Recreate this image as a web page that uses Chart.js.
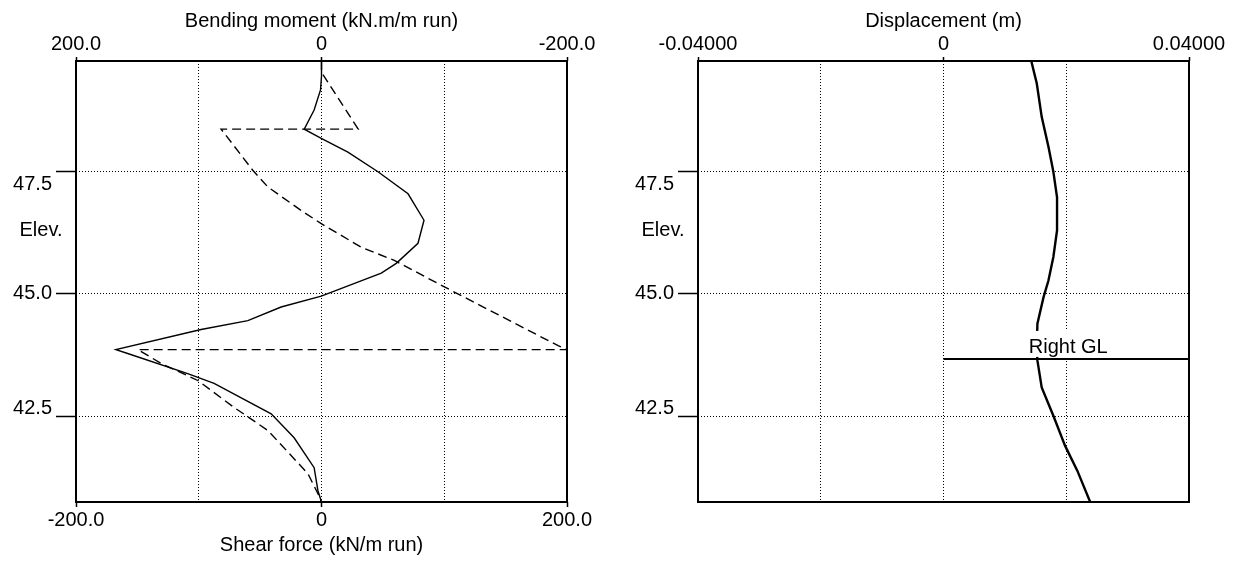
<!DOCTYPE html>
<html><head><meta charset="utf-8">
<script src="https://cdn.jsdelivr.net/npm/chart.js@4.4.0/dist/chart.umd.min.js"></script>
<style>
html,body{margin:0;padding:0;background:#fff;}
#wrap{position:relative;width:1243px;height:561px;overflow:hidden;}
canvas{position:absolute;top:0;}
</style></head><body>
<div id="wrap">
<canvas id="c1" width="622" height="561" style="left:0px"></canvas>
<canvas id="c2" width="621" height="561" style="left:622px"></canvas>
</div>
<script>
// ---------------- data ----------------
const elevMin = 40.75, elevMax = 49.75;
const elevTicks = [42.5, 45.0, 47.5];
const elevTickLabels = ['42.5', '45.0', '47.5'];

const forceTicks = [-200, -100, 0, 100, 200];
const forceTickLabels = ['-200.0', '', '0', '', '200.0'];

const dispTicks = [-0.04, -0.02, 0, 0.02, 0.04];
const dispTickLabels = ['-0.04000', '', '0', '', '0.04000'];

// Bending moment (kN.m/m run) vs elevation (solid line)
const momentElev = [49.75, 49.44, 49.16, 48.75, 48.36, 48.17, 47.89, 47.49, 47.04, 46.50, 46.03, 45.62, 45.42, 44.95, 44.73, 44.45, 44.27, 43.86, 43.78, 43.37, 43.17, 42.55, 42.06, 41.45, 40.98, 40.75];
const momentVal  = [0, 0, 0.8, 6.0, 14.1, 0.2, -21.5, -46.0, -70.5, -83.5, -78.6, -60.9, -48.7, 0.2, 32.9, 60.0, 98.1, 167.5, 157.9, 109.0, 87.5, 41.0, 22.3, 6.0, 2.9, 0];

// Shear force (kN/m run) vs elevation (dashed line)
const shearElev = [49.75, 49.52, 48.36, 48.36, 47.52, 47.18, 46.70, 46.43, 45.95, 45.68, 45.14, 43.94, 43.86, 43.86, 43.58, 43.23, 42.68, 42.21, 41.33, 40.92, 40.75];
const shearVal  = [0, 0, 29.9, -81.8, -56.0, -43.7, -16.6, -0.2, 32.4, 59.3, 100.1, 192.8, 200, -149.5, -130.8, -100.8, -71.2, -43.7, -11.1, -2.9, 0];

// Displacement (m) vs elevation
const dispElev = [49.75, 49.29, 48.61, 48.00, 47.49, 46.97, 46.29, 45.75, 45.27, 44.93, 44.39, 43.94, 43.64, 43.09, 42.51, 41.90, 41.39, 40.75];
const dispVal  = [0.0143, 0.0152, 0.0160, 0.0171, 0.0179, 0.0185, 0.0185, 0.0179, 0.0171, 0.0163, 0.0153, 0.0152, 0.0153, 0.0160, 0.0179, 0.0198, 0.0218, 0.0239];

// Right ground level
const rightGLElev = 43.67;
const rightGLRange = [0, 0.04];
const rightGLLabel = 'Right GL';

// ---------------- helpers ----------------
const FONT_FAMILY = "'Liberation Sans', Arial, sans-serif";
const FONT = {family: FONT_FAMILY, size: 20, lineHeight: 1.2};
const TRANSPARENT = 'rgba(0,0,0,0)';
const toPts = (xs, ys) => xs.map((x, i) => ({x: x, y: ys[i]}));

function elevScale() {
  return {
    type: 'linear', position: 'left', min: elevMin, max: elevMax,
    afterBuildTicks: s => { s.ticks = elevTicks.map(v => ({value: v})); },
    afterFit: s => { s.width = 76; },
    ticks: {display: false},
    grid: {color: '#000', lineWidth: 1, drawTicks: true, tickLength: 20, tickColor: '#000', tickWidth: 1.5, tickBorderDash: []},
    border: {display: false, dash: [1, 2]}
  };
}

function valueScale(opts) {
  const labelled = v => opts.labels[opts.ticks.indexOf(v)] !== '';
  const isEdge = v => v === opts.ticks[0] || v === opts.ticks[opts.ticks.length - 1];
  return {
    type: 'linear', position: opts.position, min: opts.ticks[0], max: opts.ticks[opts.ticks.length - 1],
    reverse: !!opts.reverse,
    afterBuildTicks: s => { s.ticks = opts.ticks.map(v => ({value: v})); },
    afterFit: s => { s.height = opts.height; },
    ticks: {
      color: '#000', font: FONT, padding: 1, maxRotation: 0, minRotation: 0, autoSkip: false,
      callback: v => { const i = opts.ticks.indexOf(v); return i >= 0 ? opts.labels[i] : ''; }
    },
    grid: {
      drawOnChartArea: opts.gridOnArea,
      color: ctx => (ctx.tick && isEdge(ctx.tick.value)) ? TRANSPARENT : '#000',
      lineWidth: 1,
      tickLength: opts.tickLength, tickWidth: 1.5, tickBorderDash: [],
      tickColor: ctx => (ctx.tick && labelled(ctx.tick.value)) ? '#000' : TRANSPARENT
    },
    border: {display: false, dash: [1, 2]},
    title: {display: true, text: opts.title, color: '#000', font: FONT, padding: opts.titlePadding}
  };
}

const framePlugin = {
  id: 'frame',
  afterDatasetsDraw(chart) {
    const {ctx, chartArea: a} = chart;
    ctx.save();
    ctx.strokeStyle = '#000';
    ctx.lineWidth = 2;
    ctx.strokeRect(a.left, a.top, a.right - a.left, a.bottom - a.top);
    ctx.restore();
  }
};

const ELEV_LABEL_SHIFT = {'42.5': -8, '45.0': 0, '47.5': 13};
const elevLabelPlugin = {
  id: 'elevLabels',
  afterDraw(chart) {
    const y = chart.scales.y, ctx = chart.ctx;
    ctx.save();
    ctx.font = FONT.size + 'px ' + FONT_FAMILY;
    ctx.fillStyle = '#000';
    ctx.textAlign = 'right';
    ctx.textBaseline = 'middle';
    elevTicks.forEach((v, i) => {
      const lab = elevTickLabels[i];
      ctx.fillText(lab, y.right - 24, y.getPixelForValue(v) + (ELEV_LABEL_SHIFT[lab] || 0));
    });
    ctx.textAlign = 'center';
    ctx.fillText('Elev.', y.left + 41, y.getPixelForValue(46.3));
    ctx.restore();
  }
};

const glLabelPlugin = {
  id: 'glLabel',
  afterDatasetsDraw(chart) {
    const x = chart.scales.x, y = chart.scales.y, ctx = chart.ctx;
    const cx = (x.getPixelForValue(rightGLRange[0]) + x.getPixelForValue(rightGLRange[1])) / 2 + 2;
    const ly = y.getPixelForValue(rightGLElev);
    ctx.save();
    ctx.font = FONT.size + 'px ' + FONT_FAMILY;
    const w = ctx.measureText(rightGLLabel).width;
    ctx.fillStyle = '#fff';
    ctx.fillRect(cx - w / 2 - 3, ly - 28, w + 6, 26);
    ctx.fillStyle = '#000';
    ctx.textAlign = 'center';
    ctx.textBaseline = 'alphabetic';
    ctx.fillText(rightGLLabel, cx, ly - 6);
    ctx.restore();
  }
};

const common = {
  responsive: false, animation: false, devicePixelRatio: 1,
  layout: {autoPadding: false, padding: {left: 0, top: 0, bottom: 0, right: 55}},
  plugins: {legend: {display: false}, tooltip: {enabled: false}},
  elements: {point: {radius: 0}, line: {tension: 0}}
};

// ---------------- left chart ----------------
new Chart(document.getElementById('c1'), {
  type: 'scatter',
  data: {datasets: [
    {label: 'Bending moment', data: toPts(momentVal, momentElev), xAxisID: 'x2', yAxisID: 'y',
     showLine: true, borderColor: '#000', borderWidth: 1.4, pointRadius: 0},
    {label: 'Shear force', data: toPts(shearVal, shearElev), xAxisID: 'x', yAxisID: 'y',
     showLine: true, borderColor: '#000', borderWidth: 1.4, borderDash: [9, 5], pointRadius: 0}
  ]},
  options: Object.assign({}, common, {
    scales: {
      y: elevScale(),
      x: valueScale({position: 'bottom', ticks: forceTicks, labels: forceTickLabels, height: 59, gridOnArea: true,
                     tickLength: 5, title: 'Shear force (kN/m run)', titlePadding: {top: 0, bottom: 4}}),
      x2: valueScale({position: 'top', ticks: forceTicks, labels: forceTickLabels, height: 61, gridOnArea: false, reverse: true,
                      tickLength: 4, title: 'Bending moment (kN.m/m run)', titlePadding: {top: 9, bottom: 0}})
    }
  }),
  plugins: [framePlugin, elevLabelPlugin]
});

// ---------------- right chart ----------------
const rightOpts = Object.assign({}, common, {
  layout: {autoPadding: false, padding: {left: 0, top: 0, bottom: 59, right: 54}},
  scales: {
    y: elevScale(),
    x: valueScale({position: 'top', ticks: dispTicks, labels: dispTickLabels, height: 61, gridOnArea: true,
                   tickLength: 4, title: 'Displacement (m)', titlePadding: {top: 9, bottom: 0}})
  }
});
new Chart(document.getElementById('c2'), {
  type: 'scatter',
  data: {datasets: [
    {label: 'Displacement', data: toPts(dispVal, dispElev), xAxisID: 'x', yAxisID: 'y',
     showLine: true, borderColor: '#000', borderWidth: 2.4, pointRadius: 0},
    {label: 'Right GL', data: toPts(rightGLRange, [rightGLElev, rightGLElev]), xAxisID: 'x', yAxisID: 'y',
     showLine: true, borderColor: '#000', borderWidth: 2, pointRadius: 0}
  ]},
  options: rightOpts,
  plugins: [framePlugin, elevLabelPlugin, glLabelPlugin]
});
</script>
</body></html>
